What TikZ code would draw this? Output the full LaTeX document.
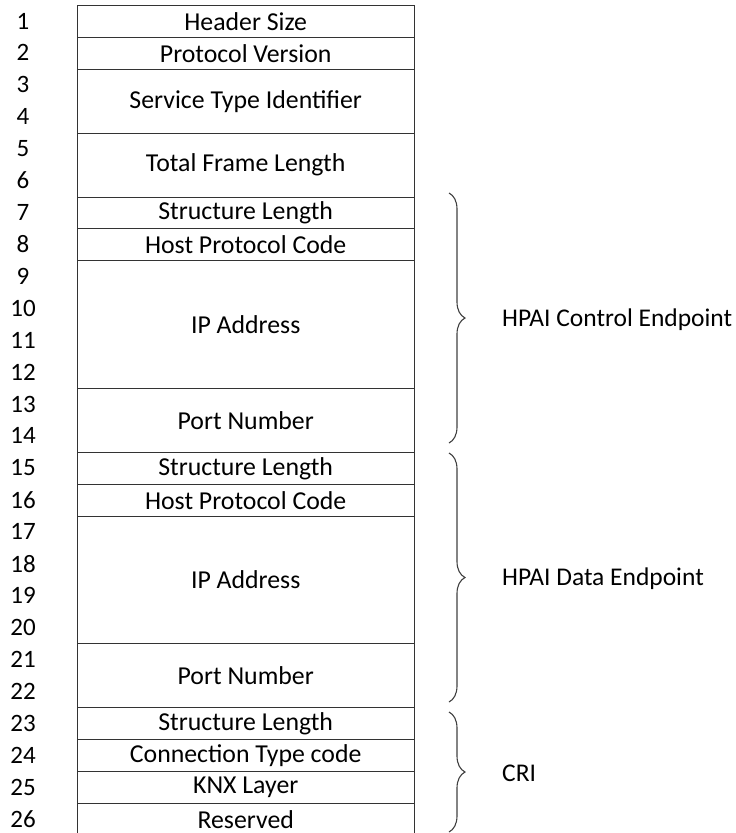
\documentclass[tikz,border=0pt]{standalone}
\usepackage{fontspec}
\setmainfont{Carlito}
\usetikzlibrary{decorations.pathreplacing}
\begin{document}
\begin{tikzpicture}[x=1pt,y=-1pt,
  field/.style={draw=black!80, line width=0.9pt, minimum width=337.5pt, inner sep=0pt, anchor=north west, font=\fontsize{25.8}{30}\selectfont, text=black},
  num/.style={font=\fontsize{25}{30}\selectfont, inner sep=0pt, text=black},
  lbl/.style={font=\fontsize{25.5}{30}\selectfont, inner sep=0pt, anchor=west, text=black},
  curly/.style={draw=black!75, line width=1.1pt, decorate, decoration={brace, amplitude=16pt}}]
\useasboundingbox (0,0) rectangle (736,833);
\clip (0,0) rectangle (736,833);
\def\rh{31.92}
% fields
\node[field, minimum height=1*\rh] (f1) at (76.5,5) {Header Size};
\node[field, minimum height=1*\rh] (f2) at (76.5,5+1*\rh) {Protocol Version};
\node[field, minimum height=2*\rh] (f3) at (76.5,5+2*\rh) {Service Type Identifier};
\node[field, minimum height=2*\rh] (f4) at (76.5,5+4*\rh) {Total Frame Length};
\node[field, minimum height=1*\rh] (f5) at (76.5,5+6*\rh) {Structure Length};
\node[field, minimum height=1*\rh] (f6) at (76.5,5+7*\rh) {Host Protocol Code};
\node[field, minimum height=4*\rh] (f7) at (76.5,5+8*\rh) {IP Address};
\node[field, minimum height=2*\rh] (f8) at (76.5,5+12*\rh) {Port Number};
\node[field, minimum height=1*\rh] (f9) at (76.5,5+14*\rh) {Structure Length};
\node[field, minimum height=1*\rh] (f10) at (76.5,5+15*\rh) {Host Protocol Code};
\node[field, minimum height=4*\rh] (f11) at (76.5,5+16*\rh) {IP Address};
\node[field, minimum height=2*\rh] (f12) at (76.5,5+20*\rh) {Port Number};
\node[field, minimum height=1*\rh] (f13) at (76.5,5+22*\rh) {Structure Length};
\node[field, minimum height=1*\rh] (f14) at (76.5,5+23*\rh) {Connection Type code};
\node[field, minimum height=1*\rh] (f15) at (76.5,5+24*\rh) {KNX Layer};
\node[field, minimum height=1*\rh] (f16) at (76.5,5+25*\rh) {Reserved};
% byte numbers
\foreach \k in {1,...,26} {
  \node[num] (n\k) at (23,5+\k*\rh-0.5*\rh) {\k};
}
% braces
\coordinate (b1t) at (449,193);
\coordinate (b1b) at (449,443);
\coordinate (b2t) at (449,453);
\coordinate (b2b) at (449,702);
\coordinate (b3t) at (449,712);
\coordinate (b3b) at (449,832);
\draw[curly] (b1t) -- (b1b);
\draw[curly] (b2t) -- (b2b);
\draw[curly] (b3t) -- (b3b);
\node[lbl] (l1) at (502,320) {HPAI Control Endpoint};
\node[lbl] (l2) at (502,579) {HPAI Data Endpoint};
\node[lbl] (l3) at (502,773) {CRI};
\end{tikzpicture}
\end{document}
